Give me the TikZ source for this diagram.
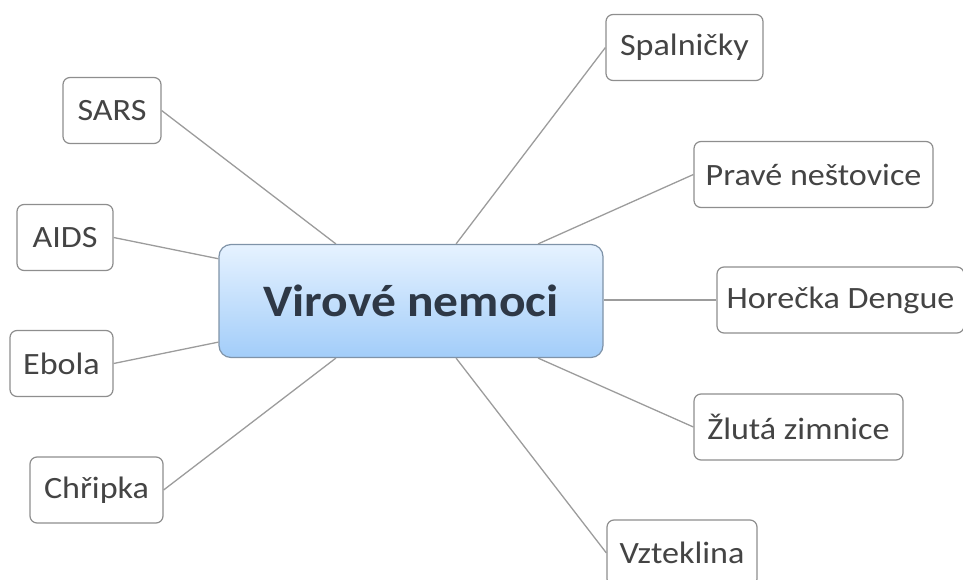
\documentclass[tikz,border=0pt]{standalone}
\usepackage{fontspec}
\setmainfont{Carlito}[FakeStretch=1.1]
\usetikzlibrary{calc}
\definecolor{linkgray}{HTML}{9C9C9C}
\definecolor{leafborder}{HTML}{8E8E8E}
\definecolor{leaftext}{HTML}{444444}
\definecolor{hubtop}{HTML}{E6F2FF}
\definecolor{hubbottom}{HTML}{A2CDF9}
\definecolor{hubborder}{HTML}{7F93A8}
\definecolor{hubtext}{HTML}{2E3846}
\tikzset{
  leaf/.style={draw=leafborder, line width=1.2pt, rounded corners=7pt, fill=white,
    minimum height=66pt, inner sep=0pt, text=leaftext,
    font=\fontsize{31}{36}\selectfont},
  hub/.style={draw=hubborder, line width=1.2pt, rounded corners=12pt,
    top color=hubtop, bottom color=hubbottom,
    minimum width=384pt, minimum height=113pt, inner sep=0pt, text=hubtext,
    font=\fontsize{45}{52}\bfseries\selectfont},
  link/.style={draw=linkgray, line width=1.3pt}
}
\begin{document}
\begin{tikzpicture}[x=1pt, y=-1pt]
  \useasboundingbox (0,0) rectangle (963,580);

  % central topic
  \node[hub] (c) at (411,301) {Virové nemoci};

  % left branches
  \node[leaf, minimum width=98pt]  (sars)   at (112,110.5) {SARS};
  \node[leaf, minimum width=96pt]  (aids)   at (65,237.5)  {AIDS};
  \node[leaf, minimum width=103pt] (ebola)  at (61.5,363.5) {Ebola};
  \node[leaf, minimum width=133pt] (chrip)  at (96.5,490)  {Chřipka};

  % right branches
  \node[leaf, minimum width=157pt] (spal)   at (684.5,47.5) {Spalničky};
  \node[leaf, minimum width=239pt] (prave)  at (813.5,174.5) {Pravé neštovice};
  \node[leaf, minimum width=247pt] (dengue) at (840.5,300)  {Horečka Dengue};
  \node[leaf, minimum width=209pt] (zluta)  at (798.5,427)  {Žlutá zimnice};
  \node[leaf, minimum width=150pt] (vzte)   at (682,553)    {Vzteklina};

  % connectors from the central topic to each branch
  \draw[link] ($(c.north west)!0.305!(c.north east)$) -- (sars.east);
  \draw[link] ($(c.north west)!0.13!(c.south west)$) -- (aids.east);
  \draw[link] ($(c.north west)!0.86!(c.south west)$) -- (ebola.east);
  \draw[link] ($(c.south west)!0.305!(c.south east)$) -- (chrip.east);
  \draw[link] ($(c.north west)!0.617!(c.north east)$) -- (spal.west);
  \draw[link] ($(c.north west)!0.83!(c.north east)$) -- (prave.west);
  \draw[link] (dengue.west -| c.east) -- (dengue.west);
  \draw[link] ($(c.south west)!0.83!(c.south east)$) -- (zluta.west);
  \draw[link] ($(c.south west)!0.617!(c.south east)$) -- (vzte.west);
\end{tikzpicture}
\end{document}
